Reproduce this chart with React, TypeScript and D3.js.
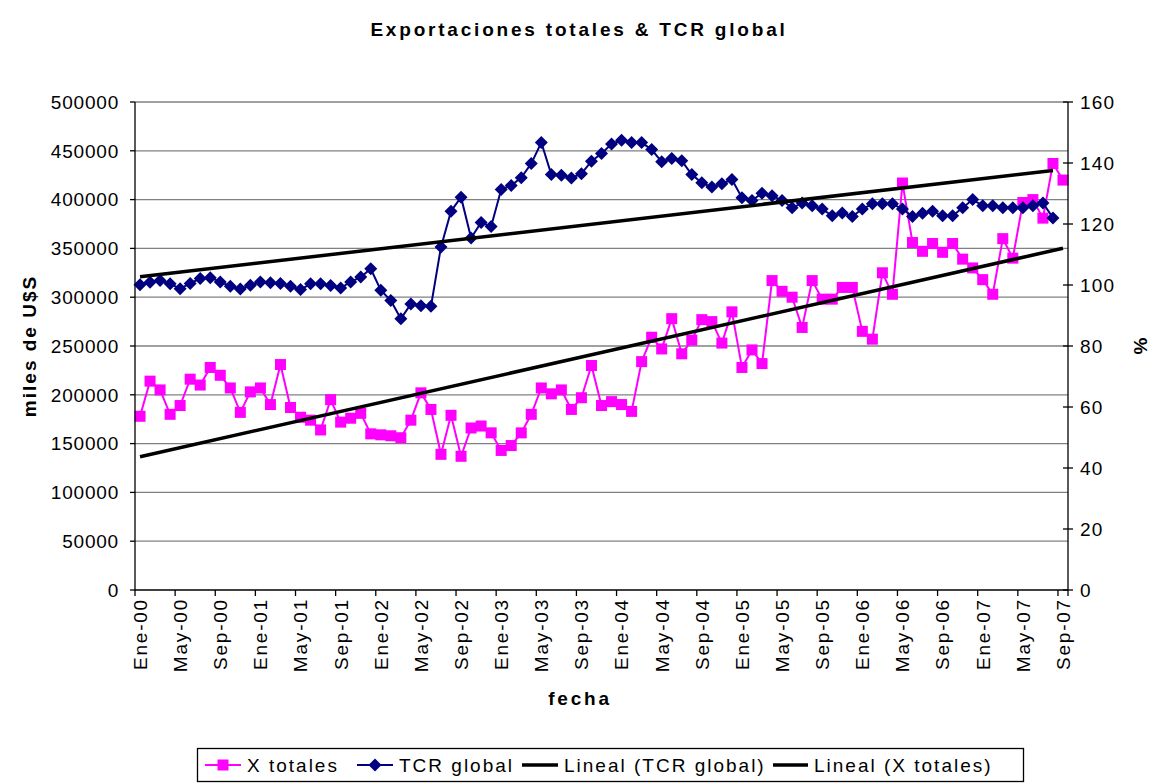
import { useEffect, useRef } from "react";
import * as d3 from "d3";

// categories: monthly, Ene-00 .. Sep-07
const years = ["00", "01", "02", "03", "04", "05", "06", "07"];
const monthNames = ["Ene", "Feb", "Mar", "Abr", "May", "Jun", "Jul", "Ago", "Sep", "Oct", "Nov", "Dic"];
const categories = years.flatMap(y => monthNames.map(m => m + "-" + y)).slice(0, 93);

// miles de U$S (left axis)
const xTotales = [
  178000, 214000, 205000, 180000, 189000, 216000, 210000, 228000, 220000, 207000,
  182000, 203000, 207000, 190000, 231000, 187000, 177000, 174000, 164000, 195000,
  172000, 176000, 181000, 160000, 159000, 158000, 156000, 174000, 202000, 185000,
  139000, 179000, 137000, 166000, 168000, 161000, 143000, 148000, 161000, 180000,
  207000, 201000, 205000, 185000, 197000, 230000, 189000, 193000, 190000, 183000,
  234000, 259000, 247000, 278000, 242000, 256000, 277000, 275000, 253000, 285000,
  228000, 246000, 232000, 317000, 306000, 300000, 269000, 317000, 298000, 298000,
  310000, 310000, 265000, 257000, 325000, 303000, 417000, 356000, 347000, 355000,
  346000, 355000, 339000, 330000, 318000, 303000, 360000, 340000, 397000, 400000,
  381000, 437000, 420000,
];

// % (right axis)
const tcrGlobal = [
  100.1, 100.9, 101.5, 100.4, 98.8, 100.5, 102.1, 102.4, 101.0, 99.6,
  98.7, 99.9, 101.0, 100.7, 100.5, 99.6, 98.5, 100.4, 100.4, 99.8,
  99.0, 101.0, 102.6, 105.3, 98.3, 94.9, 88.9, 93.8, 93.2, 93.0,
  112.5, 124.2, 128.8, 115.4, 120.5, 119.2, 131.3, 132.6, 135.2, 139.8,
  146.7, 136.2, 136.0, 135.1, 136.5, 140.6, 143.1, 146.2, 147.5, 146.7,
  146.7, 144.4, 140.4, 141.5, 140.7, 136.2, 133.5, 132.1, 133.2, 134.6,
  128.6, 127.7, 130.1, 129.3, 127.7, 125.3, 126.9, 126.0, 124.9, 122.7,
  123.6, 122.5, 124.9, 126.6, 126.6, 126.6, 124.9, 122.5, 123.5, 124.2,
  122.7, 122.7, 125.3, 128.0, 126.0, 126.0, 125.3, 125.3, 125.3, 126.0,
  126.9, 122.0,
];

const leftTicks = [0, 50000, 100000, 150000, 200000, 250000, 300000, 350000, 400000, 450000, 500000];
const rightTicks = [0, 20, 40, 60, 80, 100, 120, 140, 160];

const PINK = "#FF00FF";
const NAVY = "#000080";
const FONT = "'Liberation Sans', Arial, sans-serif";

// least squares line over x = 1..n (Excel "Lineal" trendline)
function linearFit(values: number[]) {
  const n = values.length;
  const xs = values.map((_, i) => i + 1);
  const mx = d3.mean(xs)!;
  const my = d3.mean(values)!;
  let num = 0, den = 0;
  xs.forEach((x, i) => { num += (x - mx) * (values[i] - my); den += (x - mx) * (x - mx); });
  const slope = num / den;
  const b = my - slope * mx;
  return [0, n - 1].map(i => ({ i, v: b + slope * (i + 1) }));
}

function diamondPath(r: number) {
  return `M0,${-r}L${r},0L0,${r}L${-r},0Z`;
}

export default function App() {
  const ref = useRef<SVGSVGElement>(null);

  useEffect(() => {
    const svg = d3.select(ref.current);
    svg.selectAll("*").remove();

    const left = 135, right = 1068, top = 102, bottom = 590;

    const x = d3.scaleBand<string>().domain(categories).range([left, right]);
    const cx = (i: number) => x(categories[i])! + x.bandwidth() / 2;
    const yL = d3.scaleLinear().domain([0, 500000]).range([bottom, top]);
    const yR = d3.scaleLinear().domain([0, 160]).range([bottom, top]);

    svg.append("rect").attr("width", 1158).attr("height", 783).attr("fill", "#fff");

    // title
    svg.append("text")
      .attr("x", 579).attr("y", 36)
      .attr("text-anchor", "middle")
      .attr("font-family", FONT).attr("font-weight", "bold")
      .attr("font-size", 19).attr("letter-spacing", 2.8)
      .text("Exportaciones totales & TCR global");

    // gridlines
    svg.append("g").selectAll("line").data(leftTicks.slice(1)).join("line")
      .attr("x1", left).attr("x2", right)
      .attr("y1", d => yL(d)).attr("y2", d => yL(d))
      .attr("stroke", "#808080").attr("stroke-width", 1.3);

    // X totales
    const pinkLine = d3.line<number>().x((_, i) => cx(i)).y(d => yL(d));
    svg.append("path").datum(xTotales)
      .attr("fill", "none").attr("stroke", PINK).attr("stroke-width", 2)
      .attr("d", pinkLine);
    svg.append("g").selectAll("rect").data(xTotales).join("rect")
      .attr("x", (_, i) => cx(i) - 5.5).attr("y", d => yL(d) - 5.5)
      .attr("width", 11).attr("height", 11)
      .attr("fill", PINK);

    // TCR global
    const navyLine = d3.line<number>().x((_, i) => cx(i)).y(d => yR(d));
    svg.append("path").datum(tcrGlobal)
      .attr("fill", "none").attr("stroke", NAVY).attr("stroke-width", 2)
      .attr("d", navyLine);
    svg.append("g").selectAll("path").data(tcrGlobal).join("path")
      .attr("transform", (d, i) => `translate(${cx(i)},${yR(d)})`)
      .attr("d", diamondPath(6.5))
      .attr("fill", NAVY);

    // trendlines
    const tcrFit = linearFit(tcrGlobal);
    const xFit = linearFit(xTotales);
    svg.append("line")
      .attr("x1", cx(tcrFit[0].i)).attr("y1", yR(tcrFit[0].v))
      .attr("x2", cx(tcrFit[1].i)).attr("y2", yR(tcrFit[1].v))
      .attr("stroke", "#000").attr("stroke-width", 3.5);
    svg.append("line")
      .attr("x1", cx(xFit[0].i)).attr("y1", yL(xFit[0].v))
      .attr("x2", cx(xFit[1].i)).attr("y2", yL(xFit[1].v))
      .attr("stroke", "#000").attr("stroke-width", 3.5);

    // axes lines
    const axisG = svg.append("g").attr("stroke", "#000").attr("stroke-width", 1.3);
    axisG.append("line").attr("x1", left).attr("x2", left).attr("y1", top).attr("y2", bottom);
    axisG.append("line").attr("x1", right).attr("x2", right).attr("y1", top).attr("y2", bottom);
    axisG.append("line").attr("x1", left).attr("x2", right).attr("y1", bottom).attr("y2", bottom);

    // left ticks + labels
    axisG.selectAll(".lt").data(leftTicks).join("line")
      .attr("x1", left - 5).attr("x2", left)
      .attr("y1", d => yL(d)).attr("y2", d => yL(d));
    svg.append("g").selectAll("text").data(leftTicks).join("text")
      .attr("x", left - 16).attr("y", d => yL(d)).attr("dy", "0.36em")
      .attr("text-anchor", "end")
      .attr("font-family", FONT).attr("font-size", 19).attr("letter-spacing", 0.8)
      .text(d => String(d));

    // right ticks + labels
    axisG.selectAll(".rt").data(rightTicks).join("line")
      .attr("x1", right - 5).attr("x2", right + 5)
      .attr("y1", d => yR(d)).attr("y2", d => yR(d));
    svg.append("g").selectAll("text").data(rightTicks).join("text")
      .attr("x", right + 12).attr("y", d => yR(d)).attr("dy", "0.36em")
      .attr("font-family", FONT).attr("font-size", 19).attr("letter-spacing", 1.2)
      .text(d => String(d));

    // x ticks + labels every 4 months
    const shown = categories.filter((_, i) => i % 4 === 0);
    axisG.selectAll(".xt").data([...shown.map(c => x(c)!), right]).join("line")
      .attr("x1", d => d).attr("x2", d => d)
      .attr("y1", bottom).attr("y2", bottom + 6);
    svg.append("g").selectAll("text").data(shown).join("text")
      .attr("transform", d => `translate(${x(d)! + x.bandwidth() / 2},${bottom + 8}) rotate(-90)`)
      .attr("dy", "0.36em")
      .attr("text-anchor", "end")
      .attr("font-family", FONT).attr("font-size", 19).attr("letter-spacing", 1.8)
      .text(d => d);

    // axis titles
    svg.append("text")
      .attr("transform", `translate(36,${(top + bottom) / 2}) rotate(-90)`)
      .attr("text-anchor", "middle")
      .attr("font-family", FONT).attr("font-weight", "bold").attr("font-size", 19).attr("letter-spacing", 2)
      .text("miles de U$S");
    svg.append("text")
      .attr("transform", `translate(1147,${(top + bottom) / 2}) rotate(-90)`)
      .attr("text-anchor", "middle")
      .attr("font-family", FONT).attr("font-weight", "bold").attr("font-size", 19)
      .text("%");
    svg.append("text")
      .attr("x", 580).attr("y", 705)
      .attr("text-anchor", "middle")
      .attr("font-family", FONT).attr("font-weight", "bold").attr("font-size", 19).attr("letter-spacing", 2.8)
      .text("fecha");

    // legend
    const lg = svg.append("g");
    lg.append("rect").attr("x", 197.5).attr("y", 748.5).attr("width", 826).attr("height", 33)
      .attr("fill", "#fff").attr("stroke", "#000").attr("stroke-width", 1.3);
    const items = [
      { label: "X totales", color: PINK, marker: "square", x0: 205, w: 36 },
      { label: "TCR global", color: NAVY, marker: "diamond", x0: 357, w: 36 },
      { label: "Lineal (TCR global)", color: "#000", marker: "none", x0: 522, w: 36 },
      { label: "Lineal (X totales)", color: "#000", marker: "none", x0: 773, w: 35 },
    ];
    const ly = 765;
    items.forEach(it => {
      lg.append("line").attr("x1", it.x0).attr("x2", it.x0 + it.w).attr("y1", ly).attr("y2", ly)
        .attr("stroke", it.color).attr("stroke-width", it.marker === "none" ? 3.5 : 2);
      if (it.marker === "square") {
        lg.append("rect").attr("x", it.x0 + it.w / 2 - 5.5).attr("y", ly - 5.5)
          .attr("width", 11).attr("height", 11).attr("fill", it.color);
      } else if (it.marker === "diamond") {
        lg.append("path").attr("transform", `translate(${it.x0 + it.w / 2},${ly})`)
          .attr("d", diamondPath(6.5)).attr("fill", it.color);
      }
      lg.append("text").attr("x", it.x0 + it.w + 6).attr("y", ly).attr("dy", "0.36em")
        .attr("font-family", FONT).attr("font-size", 19).attr("letter-spacing", 2.0)
        .text(it.label);
    });
  }, []);

  return (
    <svg ref={ref} width={1158} height={783}
      style={{ position: "absolute", left: 0, top: 0, display: "block" }} />
  );
}
